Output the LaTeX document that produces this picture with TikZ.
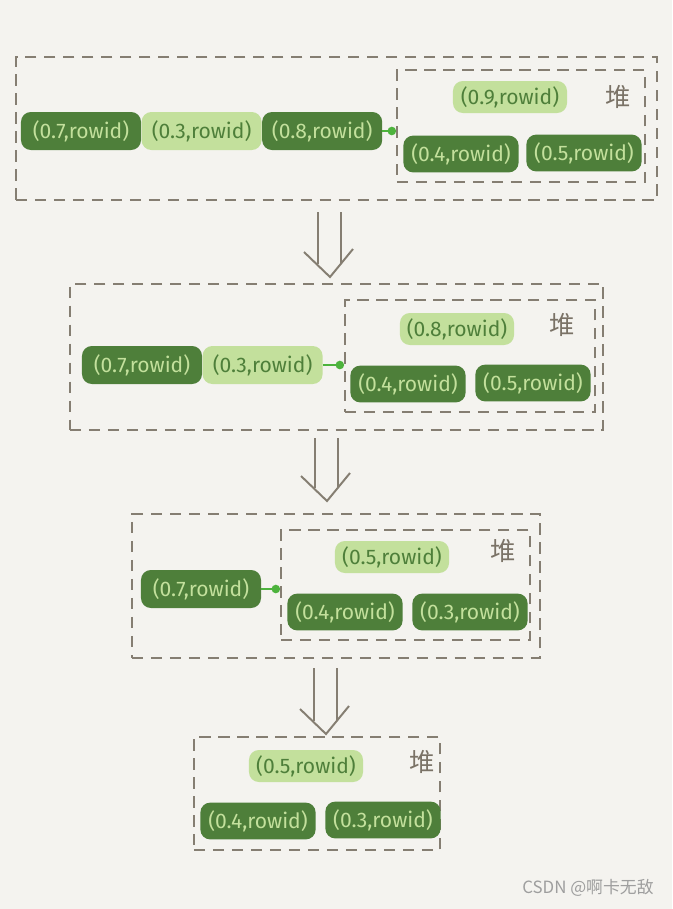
\documentclass[tikz,border=0pt]{standalone}
\usepackage{fontspec}
\setsansfont{Fira Sans}
\newfontfamily\cjk{Noto Sans CJK SC}
\usetikzlibrary{arrows.meta,positioning}
\definecolor{heapBg}{HTML}{F4F3EF}
\definecolor{heapDark}{HTML}{4E7F3A}
\definecolor{heapLight}{HTML}{C3E09C}
\definecolor{heapLine}{HTML}{857E72}
\definecolor{heapLink}{HTML}{4DB33D}
\definecolor{heapMark}{HTML}{7A7266}

\begin{document}
\begin{tikzpicture}[
    x=0.025cm, y=-0.025cm,
    rowDark/.style={fill=heapDark, text=heapLight, rounded corners=7pt,
      minimum width=3cm, minimum height=0.95cm, inner sep=1pt,
      font=\sffamily\fontsize{15}{17}\selectfont},
    rowLight/.style={rowDark, fill=heapLight, text=heapDark},
    heapTop/.style={rowLight, minimum width=2.85cm, minimum height=0.8cm},
    heapLow/.style={rowDark, minimum width=2.88cm, minimum height=0.92cm},
    frame/.style={draw=heapLine, line width=1.3pt, dash pattern=on 8pt off 5.5pt,
      inner sep=0pt},
    heapName/.style={text=heapMark, font=\cjk\fontsize{18}{20}\selectfont},
    link/.style={heapLink, line width=1.4pt, -{Circle[length=6pt]}},
    bigArrow/.style={heapLine, line width=1.4pt},
  ]
  % Background and page size
  \fill[heapBg] (0,0) rectangle (672,909);
  \useasboundingbox (0,0) rectangle (672,909);

  % Step 1
  \node[frame, minimum width=16.025cm, minimum height=3.575cm] (b1) at (336.5,128.5) {};
  \node[frame, minimum width=6.2cm, minimum height=2.8cm] (h1) at (521,126) {};
  \node[rowDark] (n1) at (81,131) {(0.7,rowid)};
  \node[rowLight, right=0pt of n1] (n2) {(0.3,rowid)};
  \node[rowDark, right=0pt of n2] (n3) {(0.8,rowid)};
  \draw[link] (n3.east) -- (n3.east -| h1.west);
  \node[heapTop] (t1) at (510,97) {(0.9,rowid)};
  \node[heapName] (s1) at (618,97) {堆};
  \node[heapLow] (p1) at (461,154) {(0.4,rowid)};
  \node[heapLow] (q1) at (584,153) {(0.5,rowid)};

  % Step 2
  \node[frame, minimum width=13.325cm, minimum height=3.65cm] (b2) at (336.5,357) {};
  \node[frame, minimum width=6.25cm, minimum height=2.8cm] (h2) at (470,356) {};
  \node[rowDark] (m1) at (142,365) {(0.7,rowid)};
  \node[rowLight, right=0pt of m1] (m2) {(0.3,rowid)};
  \draw[link] (m2.east) -- (m2.east -| h2.west);
  \node[heapTop] (t2) at (457,329) {(0.8,rowid)};
  \node[heapName] (s2) at (562,325) {堆};
  \node[heapLow] (p2) at (408,384) {(0.4,rowid)};
  \node[heapLow] (q2) at (533,383) {(0.5,rowid)};

  % Step 3
  \node[frame, minimum width=10.2cm, minimum height=3.6cm] (b3) at (336,586) {};
  \node[frame, minimum width=6.225cm, minimum height=2.75cm] (h3) at (405.5,585) {};
  \node[rowDark] (k1) at (201,589) {(0.7,rowid)};
  \draw[link] (k1.east) -- (k1.east -| h3.west);
  \node[heapTop] (t3) at (392,557) {(0.5,rowid)};
  \node[heapName] (s3) at (503,551) {堆};
  \node[heapLow] (p3) at (345,612) {(0.4,rowid)};
  \node[heapLow] (q3) at (470,612) {(0.3,rowid)};

  % Step 4
  \node[frame, minimum width=6.15cm, minimum height=2.825cm] (h4) at (317,793.5) {};
  \node[heapTop] (t4) at (306,766) {(0.5,rowid)};
  \node[heapName] (s4) at (422,762) {堆};
  \node[heapLow] (p4) at (258,821) {(0.4,rowid)};
  \node[heapLow] (q4) at (383,820) {(0.3,rowid)};

  % Double arrows between steps
  \foreach \cx/\top/\tip in {330/212/277, 327/438/501, 326/668/734} {
    \draw[bigArrow] (\cx-12,\top) -- (\cx-12,\tip-13);
    \draw[bigArrow] (\cx+11,\top) -- (\cx+11,\tip-13);
    \draw[bigArrow, line join=miter] (\cx-26,\tip-25) -- (\cx,\tip) -- (\cx+23,\tip-28);
  }

  % Watermark
  \node[text=black!38, font=\cjk\fontsize{12}{14}\selectfont] (mark) at (588,888) {CSDN @啊卡无敌};
\end{tikzpicture}
\end{document}
